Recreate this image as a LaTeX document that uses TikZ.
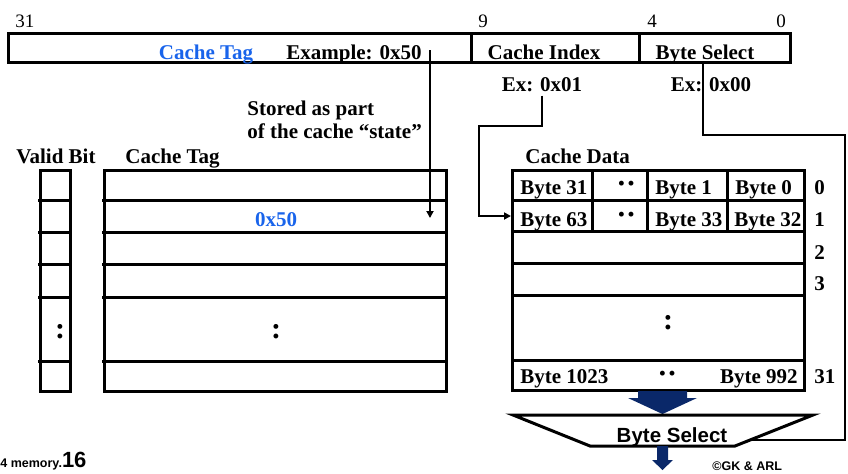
\documentclass[tikz,border=0pt]{standalone}
\usepackage{fontspec}
\setmainfont{Liberation Serif}
\setsansfont{Liberation Sans}
\usepackage{tikz}
\usetikzlibrary{arrows.meta}

\definecolor{tagblue}{RGB}{25,100,235}
\definecolor{navy}{RGB}{10,40,105}

\begin{document}
\begin{tikzpicture}[x=0.5pt, y=-0.5pt,
            box/.style={line width=1.5pt},
            wire/.style={line width=1.35pt},
            tip/.style={-{Triangle[length=3.5pt, width=3.5pt]}},
            label/.style={font=\fontsize{10.5}{12}\selectfont\bfseries, inner sep=0pt, anchor=base},
            bitnum/.style={font=\fontsize{9.5}{11}\selectfont, inner sep=0pt, anchor=base},
            vdots/.style={font=\fontsize{15}{16}\selectfont\bfseries, inner sep=0pt},
            hdots/.style={vdots, rotate=90},
            bigarrow/.style={fill=navy, draw=none}
        ]
            \useasboundingbox (0,0) rectangle (848,473);

            % bit positions
            \node[bitnum] (b31) at (25,27) {31};
            \node[bitnum] (b9) at (483,27) {9};
            \node[bitnum] (b4) at (652,27) {4};
            \node[bitnum] (b0) at (781,27) {0};

            % address
            \draw[box] (8,33) rectangle (790,62);
            \draw[box] (471,33) -- (471,62);
            \draw[box] (639,33) -- (639,62);
            \node[label, text=tagblue] (tagname) at (206,59) {Cache Tag};
            \node[label] (example) at (354,59) {Example: 0x50};
            \node[label] (idxname) at (544,59) {Cache Index};
            \node[label] (bsname) at (705,59) {Byte Select};
            \node[label] (exidx) at (542,91) {Ex: 0x01};
            \node[label] (exbs) at (711,91) {Ex: 0x00};

            \node[label, anchor=base west] (stored1) at (247,115) {Stored as part};
            \node[label, anchor=base west] (stored2) at (247,138) {of the cache “state”};

            % headings
            \node[label, anchor=base west] (validhead) at (16,163) {Valid Bit};
            \node[label, anchor=base west] (taghead) at (125,163) {Cache Tag};
            \node[label, anchor=base west] (datahead) at (525,163) {Cache Data};

            % valid bits and tags
            \draw[box] (40,170) rectangle (70,391);
            \draw[box] (104,170) rectangle (446,391);
            \foreach \y in {200, 232, 264, 297, 361}{
                \draw[box] (38,\y) -- (72,\y);
                \draw[box] (102,\y) -- (448,\y);
            }
            \node[label, text=tagblue] (tagval) at (276,226) {0x50};
            \node[vdots] (validdots) at (60,332) {:};
            \node[vdots] (tagdots) at (276,332) {:};

            % cache data
            \draw[box] (512,170) rectangle (804,390);
            \foreach \y in {200, 231, 263, 295, 360}{
                \draw[box] (512,\y) -- (804,\y);
            }
            \foreach \x in {592, 647, 727}{
                \draw[box] (\x,170) -- (\x,231);
            }
            \node[label, anchor=base west] (d31) at (520,194) {Byte 31};
            \node[hdots] (row0dots) at (627,183) {:};
            \node[label, anchor=base west] (d1) at (655,194) {Byte 1};
            \node[label, anchor=base west] (d0) at (735,194) {Byte 0};
            \node[label, anchor=base west] (d63) at (520,226) {Byte 63};
            \node[hdots] (row1dots) at (627,214) {:};
            \node[label, anchor=base west] (d33) at (655,226) {Byte 33};
            \node[label, anchor=base west] (d32) at (734,226) {Byte 32};
            \node[vdots] (datadots) at (668,323) {:};
            \node[label, anchor=base west] (d1023) at (520,383) {Byte 1023};
            \node[hdots] (row31dots) at (668,373) {:};
            \node[label, anchor=base east] (d992) at (798,383) {Byte 992};

            % row numbers
            \node[label, anchor=base west] (r0) at (814,194) {0};
            \node[label, anchor=base west] (r1) at (814,226) {1};
            \node[label, anchor=base west] (r2) at (814,259) {2};
            \node[label, anchor=base west] (r3) at (814,290) {3};
            \node[label, anchor=base west] (r31) at (814,383) {31};

            % byte select mux
            \fill[bigarrow] (638,391) -- (687,391) -- (687,398) -- (697,398) -- (662.5,414)
                -- (628,398) -- (638,398) -- cycle;
            \draw[box] (513,415) -- (813,415) -- (735,446) -- (590,446) -- cycle;
            \node[font=\sffamily\bfseries\fontsize{10.25}{12}\selectfont, inner sep=0pt, anchor=base] (mux) at (672,442) {Byte Select};
            \fill[bigarrow] (657,446) -- (668,446) -- (668,460) -- (673,460) -- (662.5,470)
                -- (652,460) -- (657,460) -- cycle;

            % connectors
            \coordinate (tagtap) at (430,50);
            \coordinate (tagrow) at (430,218);
            \draw[wire, tip] (tagtap) -- (tagrow);

            \coordinate (idxbend) at (479,126);
            \coordinate (row1) at (511,216);
            \draw[wire, tip] ([yshift=-2pt]exidx.south) |- (idxbend) |- (row1);

            \coordinate (bstap) at (703,62);
            \coordinate (bsbend) at (845,135);
            \coordinate (muxin) at (750,440);
            \draw[wire] (bstap) |- (bsbend) |- (muxin);

            % footer
            \node[font=\sffamily\bfseries\fontsize{6.25}{7}\selectfont, anchor=base west, inner sep=0pt] (slide) at (0,467) {4 memory.{\fontsize{11}{12}\selectfont 16}};
            \node[font=\sffamily\bfseries\fontsize{6.25}{7}\selectfont, anchor=base west, inner sep=0pt] (credit) at (712,470) {©GK \& ARL};

        \end{tikzpicture}
\end{document}
